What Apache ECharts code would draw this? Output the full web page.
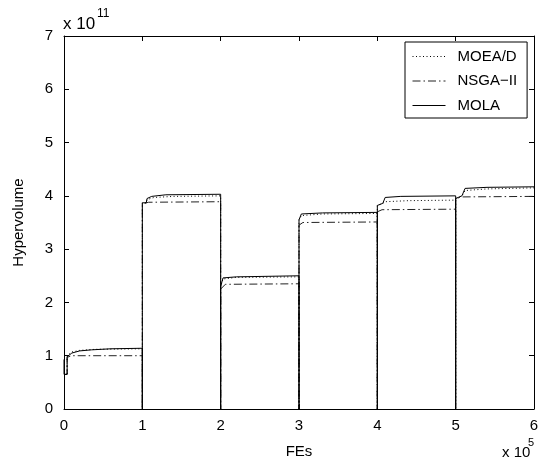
<!DOCTYPE html>
<html>
<head>
<meta charset="utf-8">
<script src="https://cdn.jsdelivr.net/npm/echarts@6/dist/echarts.min.js"></script>
<style>
html,body{margin:0;padding:0;background:#fff;}
#chart{width:544px;height:464px;}
</style>
</head>
<body>
<div id="chart"></div>
<script>
// FEs in units of 1e5, Hypervolume in units of 1e11
var xTicks = ['0','1','2','3','4','5','6'];
var yTicks = ['0','1','2','3','4','5','6','7'];
var seriesNames = ['MOEA/D', 'NSGA\u2212II', 'MOLA'];

var moeadData = [
  [0,0.65],[0.04,0.65],[0.04,1.0],[0.1,1.07],[0.2,1.1],[0.4,1.12],[1,1.13],[1,0],
  [1,3.87],[1.05,3.87],[1.06,3.93],[1.15,3.97],[1.4,3.99],[2,4.0],[2,0],
  [2,2.3],[2.03,2.44],[2.2,2.47],[3,2.48],[3,0],
  [3,3.55],[3.03,3.63],[3.3,3.66],[4,3.67],[4,0],
  [4,3.82],[4.07,3.86],[4.1,3.89],[4.4,3.91],[5,3.92],[5,0],
  [5,3.95],[5.08,4.0],[5.12,4.1],[5.4,4.13],[6,4.15]
];
var nsgaData = [
  [0,0.65],[0.04,0.65],[0.04,0.97],[0.1,1.0],[1,1.0],[1,0],
  [1,3.85],[1.08,3.88],[2,3.89],[2,0],
  [2,2.25],[2.06,2.34],[3,2.35],[3,0],
  [3,3.45],[3.05,3.5],[4,3.51],[4,0],
  [4,3.7],[4.06,3.74],[5,3.75],[5,0],
  [5,3.92],[5.06,3.98],[6,3.99]
];
var molaData = [
  [0,0.93],[0,0.65],[0.04,0.65],[0.04,0.98],[0.1,1.05],[0.2,1.09],[0.35,1.11],[0.6,1.13],[1,1.14],[1,0],
  [1,3.87],[1.05,3.87],[1.06,3.95],[1.12,3.99],[1.3,4.02],[2,4.03],[2,0],
  [2,2.3],[2.03,2.46],[2.2,2.48],[3,2.5],[3,0],
  [3,3.55],[3.03,3.66],[3.3,3.68],[4,3.69],[4,0],
  [4,3.82],[4.07,3.86],[4.1,3.97],[4.3,3.99],[5,4.0],[5,0],
  [5,3.95],[5.08,4.0],[5.12,4.14],[5.4,4.16],[6,4.17]
];

var FONT = '"Liberation Sans", Arial, Helvetica, sans-serif';
var chart = echarts.init(document.getElementById('chart'), null, {renderer:'canvas'});

function baseAxis(extra) {
  var a = {
    type: 'value',
    axisLine: {show: true, onZero: false, lineStyle: {color: '#000', width: 1}},
    axisTick: {show: true, inside: true, length: 5, lineStyle: {color: '#000', width: 1}},
    splitLine: {show: false},
    axisLabel: {show: true, color: '#000', fontSize: 15, fontFamily: FONT}
  };
  for (var k in extra) a[k] = extra[k];
  return a;
}

var option = {
  animation: false,
  backgroundColor: '#fff',
  grid: {left: 64, right: 10, top: 36, bottom: 54, containLabel: false},
  xAxis: [
    baseAxis({min: 0, max: 6, interval: 1, position: 'bottom',
      name: 'FEs', nameLocation: 'middle', nameGap: 35,
      nameTextStyle: {color: '#000', fontSize: 15, fontFamily: FONT},
      axisLabel: {color: '#000', fontSize: 15, fontFamily: FONT, margin: 9,
        formatter: function(v){ return xTicks[Math.round(v)]; }}}),
    baseAxis({min: 0, max: 6, interval: 1, position: 'top', axisLabel: {show: false}})
  ],
  yAxis: [
    baseAxis({min: 0, max: 7, interval: 1, position: 'left',
      name: 'Hypervolume', nameLocation: 'middle', nameGap: 38, nameRotate: 90,
      nameTextStyle: {color: '#000', fontSize: 15, fontFamily: FONT},
      axisLabel: {color: '#000', fontSize: 15, fontFamily: FONT, margin: 11,
        formatter: function(v){ return yTicks[Math.round(v)]; }}}),
    baseAxis({min: 0, max: 7, interval: 1, position: 'right', axisLabel: {show: false}})
  ],
  legend: {
    orient: 'vertical',
    left: 405, top: 42,
    width: 123,
    padding: [7, 10, 5, 7],
    itemWidth: 33, itemHeight: 14, itemGap: 9.5,
    backgroundColor: '#fff',
    borderColor: '#000', borderWidth: 1, borderRadius: 0,
    itemStyle: {opacity: 0, color: 'rgba(0,0,0,0)', borderWidth: 0},
    lineStyle: {width: 1},
    textStyle: {color: '#000', fontSize: 15, fontFamily: FONT, lineHeight: 14, padding: [0,0,0,7]},
    data: seriesNames
  },
  series: [
    {name: seriesNames[0], type: 'line', data: moeadData, symbol: 'none', z: 3,
     lineStyle: {color: '#000', width: 1, type: [1, 2.5]}, itemStyle: {color: '#000'}},
    {name: seriesNames[1], type: 'line', data: nsgaData, symbol: 'none', z: 2,
     lineStyle: {color: '#222', width: 1, type: [8, 3, 1.5, 3]}, itemStyle: {color: '#222'}},
    {name: seriesNames[2], type: 'line', data: molaData, symbol: 'none', z: 4,
     lineStyle: {color: '#000', width: 1, type: 'solid'}, itemStyle: {color: '#000'}}
  ],
  graphic: [
    {type: 'text', left: 63, top: 16, style: {text: 'x 10', fill: '#000', font: '17px ' + FONT}},
    {type: 'text', left: 97, top: 8, style: {text: '11', fill: '#000', font: '12px ' + FONT}},
    {type: 'text', left: 502, top: 445, style: {text: 'x 10', fill: '#000', font: '15px ' + FONT}},
    {type: 'text', left: 528, top: 437, style: {text: '5', fill: '#000', font: '11px ' + FONT}}
  ]
};
chart.setOption(option);
</script>
</body>
</html>
